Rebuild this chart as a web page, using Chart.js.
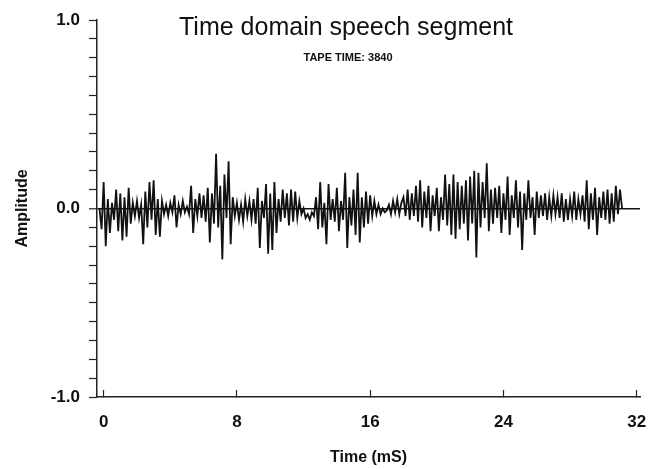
<!DOCTYPE html>
<html>
<head>
<meta charset="utf-8">
<script src="https://cdn.jsdelivr.net/npm/chart.js@4.4.0/dist/chart.umd.min.js"></script>
<style>
  html, body { margin: 0; padding: 0; background: #fff; }
  #wrap { width: 660px; height: 469px; position: relative; }
</style>
</head>
<body>
<div id="wrap"><canvas id="speech"></canvas></div>
<script>
var timeStart = -0.25;
var sampleStep = 0.125;
var amplitude = [
   0.00, -0.11,
   0.14, -0.20,  0.05, -0.13,  0.03, -0.06,  0.10, -0.12,
   0.08, -0.17,  0.06, -0.15,  0.11, -0.08,  0.03, -0.04,
   0.04, -0.05,  0.02, -0.19,  0.09, -0.10,  0.14, -0.06,
   0.15, -0.14,  0.05, -0.15,  0.04, -0.03,  0.02, -0.04,
   0.03, -0.02,  0.07, -0.10,  0.02, -0.03,  0.04, -0.02,
   0.01, -0.03,  0.12, -0.13,  0.05, -0.04,  0.08, -0.05,
   0.07, -0.07,  0.11, -0.18,  0.08, -0.08,  0.29, -0.10,
   0.12, -0.27,  0.18, -0.05,  0.25, -0.19,  0.06, -0.04,
   0.03, -0.06,  0.02, -0.07,  0.05, -0.04,  0.04, -0.06,
   0.05, -0.08,  0.11, -0.21,  0.04, -0.05,  0.13, -0.24,
   0.08, -0.22,  0.14, -0.13,  0.05, -0.07,  0.10, -0.05,
   0.08, -0.09,  0.10, -0.07,  0.09, -0.05,  0.04, -0.03,
   0.00, -0.05, -0.03, -0.06, -0.02, -0.04,  0.06, -0.11,
   0.14, -0.10,  0.03, -0.19,  0.13, -0.06,  0.05, -0.07,
   0.11, -0.12,  0.04, -0.06,  0.19, -0.21,  0.06, -0.09,
   0.10, -0.14,  0.19, -0.18,  0.06, -0.10,  0.09, -0.08,
   0.07, -0.04,  0.04, -0.03,  0.02, -0.03,  0.00, -0.02,
  -0.01,  0.02, -0.03,  0.04, -0.02,  0.05, -0.03,  0.03,
   0.06, -0.04,  0.10, -0.06,  0.08, -0.04,  0.12, -0.07,
   0.15, -0.10,  0.09, -0.05,  0.12, -0.12,  0.07, -0.04,
   0.11, -0.12,  0.06, -0.06,  0.18, -0.09,  0.13, -0.14,
   0.18, -0.16,  0.14, -0.11,  0.12, -0.08,  0.15, -0.17,
   0.17, -0.08,  0.20, -0.26,  0.19, -0.10,  0.14, -0.05,
   0.24, -0.12,  0.10, -0.08,  0.11, -0.05,  0.12, -0.13,
   0.08, -0.06,  0.17, -0.14,  0.07, -0.05,  0.15, -0.10,
   0.09, -0.22,  0.08, -0.06,  0.15, -0.05,  0.06, -0.14,
   0.09, -0.05,  0.07, -0.04,  0.08, -0.06,  0.06, -0.04,
   0.07, -0.03,  0.06, -0.05,  0.08, -0.07,  0.05, -0.06,
   0.05, -0.04,  0.09, -0.06,  0.05, -0.03,  0.07, -0.07,
   0.15, -0.11,  0.08, -0.06,  0.11, -0.14,  0.06, -0.05,
   0.09, -0.06,  0.10, -0.08,  0.08, -0.07,  0.12, -0.03,
   0.10,  0.00
];
var yLabelValues = [-1, 0, 1];
var chartTitle = 'Time domain speech segment';
var tapeLabel = 'TAPE TIME: 3840';

var fontFamily = '"Liberation Sans", Arial, sans-serif';
var tickFont = { family: fontFamily, size: 17, weight: 'bold' };
var axisTitleFont = { family: fontFamily, size: 16, weight: 'bold' };

function isZero(v) { return Math.abs(v) < 1e-6; }

// title sits inside the plot area, so draw it ourselves
var innerTitle = {
  id: 'innerTitle',
  afterDraw: function(chart) {
    var ctx = chart.ctx;
    ctx.save();
    ctx.fillStyle = '#111';
    ctx.textAlign = 'center';
    ctx.textBaseline = 'alphabetic';
    ctx.font = '25px ' + fontFamily;
    ctx.fillText(chartTitle, 346, 35);
    ctx.font = 'bold 11px ' + fontFamily;
    ctx.fillText(tapeLabel, 348, 61);
    ctx.restore();
  }
};

new Chart(document.getElementById('speech'), {
  type: 'line',
  data: {
    datasets: [{
      data: amplitude.map(function(a, i) { return { x: timeStart + i * sampleStep, y: a }; }),
      borderColor: '#111',
      borderWidth: 1.8,
      pointRadius: 0,
      tension: 0,
      fill: false
    }]
  },
  options: {
    responsive: true,
    maintainAspectRatio: false,
    animation: false,
    devicePixelRatio: 1,
    layout: { padding: { top: 20, right: 20, left: 0, bottom: 0 } },
    plugins: { legend: { display: false }, tooltip: { enabled: false } },
    scales: {
      x: {
        type: 'linear',
        min: -0.4,
        max: 32.2,
        border: { color: '#222', width: 1.5 },
        // tick marks point up into the plot, like the original
        grid: { drawOnChartArea: false, tickLength: -7, tickColor: '#222', tickWidth: 1.2 },
        ticks: {
          stepSize: 8, includeBounds: false, autoSkip: false, maxRotation: 0,
          padding: 22, color: '#111', font: tickFont
        },
        title: { display: true, text: 'Time (mS)', color: '#111', font: axisTitleFont, padding: { top: 4, bottom: 2 } },
        afterFit: function(s) { s.height = 72; s.paddingLeft = 0; s.paddingRight = 0; }
      },
      y: {
        min: -1,
        max: 1,
        border: { color: '#222', width: 1.5 },
        grid: {
          color: function(c) { return c.tick && isZero(c.tick.value) ? '#111' : 'rgba(0,0,0,0)'; },
          lineWidth: function(c) { return c.tick && isZero(c.tick.value) ? 1.6 : 1; },
          tickLength: 8, tickColor: '#222', tickWidth: 1.2
        },
        ticks: {
          stepSize: 0.1, autoSkip: false, padding: 9, color: '#111', font: tickFont,
          callback: function(v) {
            for (var k = 0; k < yLabelValues.length; k++) {
              if (Math.abs(v - yLabelValues[k]) < 1e-6) return isZero(v) ? '0.0' : v.toFixed(1);
            }
            return '';
          }
        },
        title: { display: true, text: 'Amplitude', color: '#111', font: axisTitleFont, padding: { top: 13, bottom: 0 } },
        afterFit: function(s) { s.width = 97; s.paddingTop = 0; s.paddingBottom = 0; }
      }
    }
  },
  plugins: [innerTitle]
});
</script>
</body>
</html>
